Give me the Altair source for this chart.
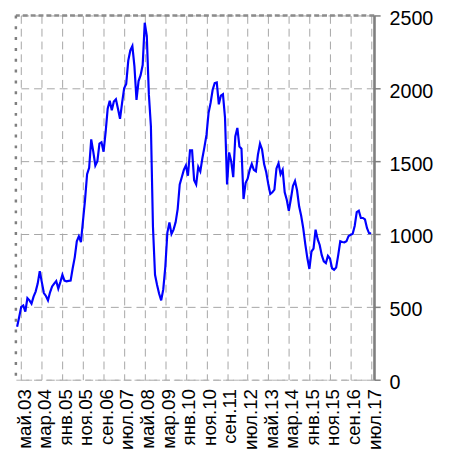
import altair as alt
import pandas as pd

# month index 0 = май.03 ; first value is март 2003
START_INDEX = -2
v2003 = [363, 430, 500, 510, 468, 560, 545, 522, 570, 605]           # мар..дек
v2004 = [660, 745, 670, 595, 575, 545, 600, 640, 660, 677, 625, 670]
v2005 = [720, 680, 675, 678, 680, 765, 840, 950, 985, 945, 1090, 1235]
v2006 = [1410, 1455, 1650, 1565, 1470, 1500, 1620, 1630, 1565, 1700, 1860, 1915]
v2007 = [1850, 1910, 1925, 1860, 1790, 1900, 2000, 2030, 2190, 2260, 2290, 2150]
v2008 = [1920, 2050, 2090, 2160, 2450, 2360, 1960, 1740, 1050, 720, 650, 590]
v2009 = [545, 620, 775, 1010, 1080, 1000, 1030, 1080, 1170, 1340, 1390, 1440]
v2010 = [1470, 1400, 1574, 1574, 1370, 1340, 1460, 1430, 1520, 1596, 1680, 1830]
v2011 = [1900, 1990, 2035, 2040, 1890, 1950, 1960, 1800, 1340, 1560, 1500, 1390]
v2012 = [1670, 1728, 1600, 1585, 1240, 1350, 1380, 1440, 1480, 1440, 1430, 1545]
v2013 = [1620, 1580, 1480, 1425, 1345, 1275, 1286, 1305, 1450, 1485, 1410, 1440]
v2014 = [1286, 1235, 1160, 1240, 1330, 1363, 1300, 1190, 1125, 1040, 930, 835]
v2015 = [760, 880, 900, 1030, 965, 925, 855, 812, 800, 850, 832, 765]
v2016 = [755, 770, 855, 950, 945, 943, 950, 985, 995, 1000, 1055, 1150]
v2017 = [1160, 1110, 1110, 1100, 1040, 1005, 1005]                   # янв..июл

TICK_LABELS = ["май.03", "мар.04", "янв.05", "ноя.05", "сен.06", "июл.07",
               "май.08", "мар.09", "янв.10", "ноя.10", "сен.11", "июл.12",
               "май.13", "мар.14", "янв.15", "ноя.15", "сен.16", "июл.17"]
TICK_STEP = 10
Y_TICKS = [0, 500, 1000, 1500, 2000, 2500]

values = (v2003 + v2004 + v2005 + v2006 + v2007 + v2008 + v2009 + v2010 +
          v2011 + v2012 + v2013 + v2014 + v2015 + v2016 + v2017)
df = pd.DataFrame({"m": [START_INDEX + i for i in range(len(values))],
                   "v": values})

X_DOMAIN = [-2.6, 171.5]
label_arr = "[" + ",".join("'" + s + "'" for s in TICK_LABELS) + "]"

xscale = alt.Scale(domain=X_DOMAIN, nice=False, zero=False)
yscale = alt.Scale(domain=[0, 2500], nice=False)

x_axis = alt.Axis(values=[i * TICK_STEP for i in range(len(TICK_LABELS))],
                  labelExpr=label_arr + "[round(datum.value/10)]",
                  labelAngle=-90, labelFontSize=19,
                  labelFont="Liberation Sans", labelColor="#000000",
                  labelPadding=9, labelOffset=3, labelOverlap=False,
                  grid=True, gridColor="#a6a6a6", gridDash=[8, 5],
                  gridWidth=1, ticks=False,
                  domain=True, domainColor="#b5b5b5", domainDash=[6, 4],
                  domainWidth=1)
y_axis = alt.Axis(orient="right", values=Y_TICKS, format="d",
                  labelFontSize=20, labelFont="Liberation Sans",
                  labelColor="#000000", labelPadding=9, labelOffset=3,
                  labelOverlap=False,
                  grid=True, gridColor="#a6a6a6", gridDash=[8, 5],
                  gridWidth=1, ticks=True, tickColor="#7f7f7f",
                  tickSize=6, tickWidth=1.5,
                  domain=True, domainColor="#7f7f7f", domainWidth=2)

line = alt.Chart(df).mark_line(color="#0000ff", strokeWidth=2.2).encode(
    x=alt.X("m:Q", scale=xscale, title=None, axis=x_axis),
    y=alt.Y("v:Q", scale=yscale, title=None, axis=y_axis),
)

top_border = alt.Chart(pd.DataFrame({"v": [2500]})).mark_rule(
    color="#8c8c8c", strokeWidth=2.5, strokeDash=[5, 3]
).encode(y=alt.Y("v:Q", scale=yscale, title=None, axis=y_axis))

left_border = alt.Chart(pd.DataFrame({"m": [X_DOMAIN[0]]})).mark_rule(
    color="#7f7f7f", strokeWidth=2.5, strokeDash=[3, 8]
).encode(x=alt.X("m:Q", scale=xscale, title=None, axis=x_axis))

right_border = alt.Chart(pd.DataFrame({"m": [X_DOMAIN[1]]})).mark_rule(
    color="#7f7f7f", strokeWidth=2
).encode(x=alt.X("m:Q", scale=xscale, title=None, axis=x_axis))

chart = alt.layer(line, top_border, left_border, right_border).properties(
    width=364, height=370,
    padding={"left": 8, "top": 4, "right": 80, "bottom": 80},
    autosize=alt.AutoSizeParams(type="none"),
).configure_view(stroke=None)

chart.save("out.html", embed_options={"renderer": "svg", "actions": False})
